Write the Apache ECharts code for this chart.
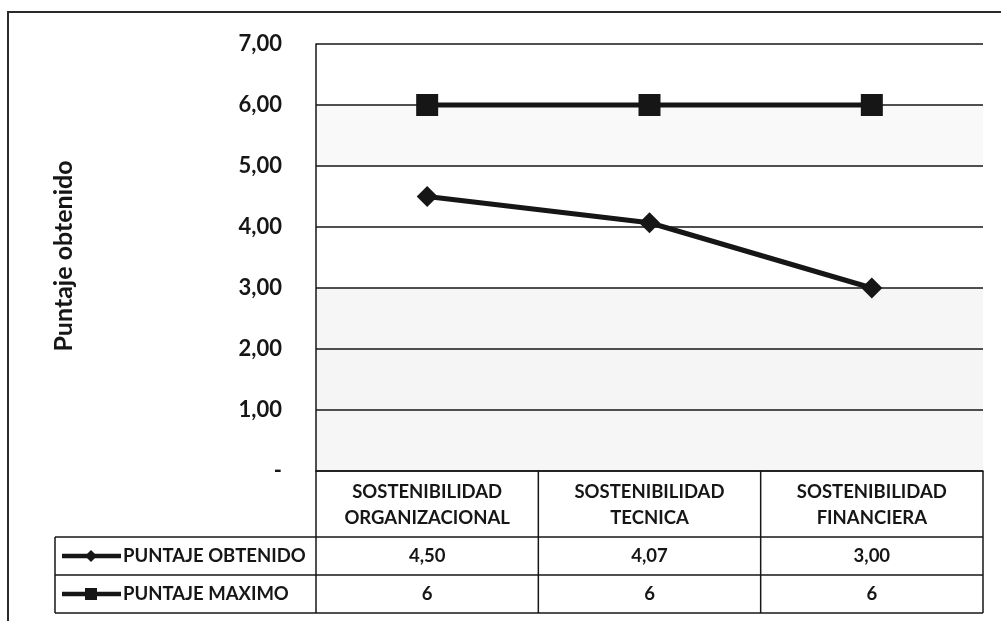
<!DOCTYPE html>
<html>
<head>
<meta charset="utf-8">
<script src="https://cdn.jsdelivr.net/npm/echarts@6/dist/echarts.min.js"></script>
<style>
  html, body { margin: 0; padding: 0; background: #ffffff; }
  #chart { width: 1001px; height: 621px; }
</style>
</head>
<body>
<div id="chart"></div>
<script>
// Categories (two-line header of the data table)
const categories = [
  'SOSTENIBILIDAD\nORGANIZACIONAL',
  'SOSTENIBILIDAD\nTECNICA',
  'SOSTENIBILIDAD\nFINANCIERA'
];
// Series values
const seriesNames = ['PUNTAJE OBTENIDO', 'PUNTAJE MAXIMO'];
const puntajeObtenido = [4.50, 4.07, 3.00];
const puntajeMaximo = [6, 6, 6];
// Value axis
const yMin = 0, yMax = 7, yStep = 1;
const yTitle = 'Puntaje obtenido';

const FONT = 'Lato, "Open Sans", sans-serif';
const INK = '#161616';

// Plot area geometry
const G = { left: 316, top: 44, width: 667, height: 427 };
const rowH = [66, 38, 38];      // header row, series rows
const legendLeft = 55;

const fmt2 = v => v.toFixed(2).replace('.', ',');

const chart = echarts.init(document.getElementById('chart'), null, { renderer: 'canvas' });

chart.setOption({
  backgroundColor: '#ffffff',
  animation: false,
  grid: { left: G.left, top: G.top, width: G.width, height: G.height, containLabel: false },
  xAxis: {
    type: 'category',
    data: categories,
    boundaryGap: true,
    axisLine: { show: true, lineStyle: { color: INK, width: 1.5 } },
    axisTick: { show: false },
    axisLabel: { show: false },
    splitLine: { show: false }
  },
  yAxis: {
    type: 'value',
    min: yMin, max: yMax, interval: yStep,
    axisLine: { show: true, lineStyle: { color: INK, width: 1.5 } },
    axisTick: { show: false },
    axisLabel: {
      margin: 34,
      fontFamily: FONT, fontWeight: 'bold', fontSize: 22, color: INK,
      formatter: v => (v === 0 ? '-' : fmt2(v))
    },
    splitLine: { show: true, lineStyle: { color: INK, width: 1.5 } },
    splitArea: {
      show: true,
      areaStyle: { color: ['#f6f6f6', '#f5f5f5', '#f6f6f6', '#ffffff', '#ffffff', '#f9f9f9', '#ffffff'] }
    }
  },
  series: [
    {
      name: seriesNames[0], type: 'line', data: puntajeObtenido,
      symbol: 'diamond', symbolSize: 21,
      lineStyle: { color: INK, width: 5 },
      itemStyle: { color: INK },
      z: 3
    },
    {
      name: seriesNames[1], type: 'line', data: puntajeMaximo,
      symbol: 'rect', symbolSize: 22,
      lineStyle: { color: INK, width: 5 },
      itemStyle: { color: INK },
      z: 4
    }
  ]
});

// Data table below the plot, laid out on the category axis
function buildTable() {
  const els = [];
  const line = (x1, y1, x2, y2, w) => els.push({
    type: 'line', silent: true,
    shape: { x1, y1, x2, y2 },
    style: { stroke: INK, lineWidth: w || 1.5 }
  });
  const text = (x, y, t, align) => els.push({
    type: 'text', silent: true, x, y,
    style: {
      text: t, fill: INK, font: 'bold 18.5px ' + FONT,
      align: align || 'center', verticalAlign: 'middle', lineHeight: 26
    }
  });

  const x0 = G.left, x1 = G.left + G.width;
  const y0 = G.top + G.height;
  const yRow1 = y0 + rowH[0];
  const yRow2 = yRow1 + rowH[1];
  const yEnd = yRow2 + rowH[2];
  const colW = G.width / categories.length;

  // Horizontal rules
  line(legendLeft, yRow1, x1, yRow1);
  line(legendLeft, yRow2, x1, yRow2);
  line(legendLeft, yEnd, x1, yEnd);
  // Vertical rules
  line(legendLeft, yRow1, legendLeft, yEnd);
  for (let i = 0; i <= categories.length; i++) {
    const x = x0 + i * colW;
    line(x, y0, x, yEnd);
  }

  // Header cells and values
  categories.forEach((c, i) => {
    const cx = chart.convertToPixel({ xAxisIndex: 0 }, i);
    text(cx, y0 + rowH[0] / 2 + 1, c);
    text(cx, yRow1 + rowH[1] / 2, fmt2(puntajeObtenido[i]));
    text(cx, yRow2 + rowH[2] / 2, String(puntajeMaximo[i]));
  });

  // Legend keys in the first column
  const keyRows = [yRow1 + rowH[1] / 2, yRow2 + rowH[2] / 2];
  keyRows.forEach((ky, r) => {
    line(legendLeft + 7, ky, legendLeft + 66, ky, 4.5);
    if (r === 0) {
      els.push({
        type: 'polygon', silent: true,
        shape: { points: [[legendLeft + 36, ky - 6], [legendLeft + 42, ky], [legendLeft + 36, ky + 6], [legendLeft + 30, ky]] },
        style: { fill: INK }
      });
    } else {
      els.push({
        type: 'rect', silent: true,
        shape: { x: legendLeft + 30, y: ky - 6, width: 12, height: 12 },
        style: { fill: INK }
      });
    }
    text(legendLeft + 68, ky, seriesNames[r], 'left');
  });

  // Value axis title, rotated
  els.push({
    type: 'text', silent: true,
    x: 64, y: 256, rotation: Math.PI / 2,
    style: {
      text: yTitle, fill: INK, font: 'bold 25px ' + FONT,
      align: 'center', verticalAlign: 'middle'
    }
  });

  // Chart frame
  els.push({
    type: 'polyline', silent: true,
    shape: { points: [[8, 621], [8, 12], [1001, 12]] },
    style: { stroke: '#2a2a2a', lineWidth: 2, fill: null }
  });
  return els;
}

chart.setOption({ graphic: { elements: buildTable() } });
</script>
</body>
</html>
